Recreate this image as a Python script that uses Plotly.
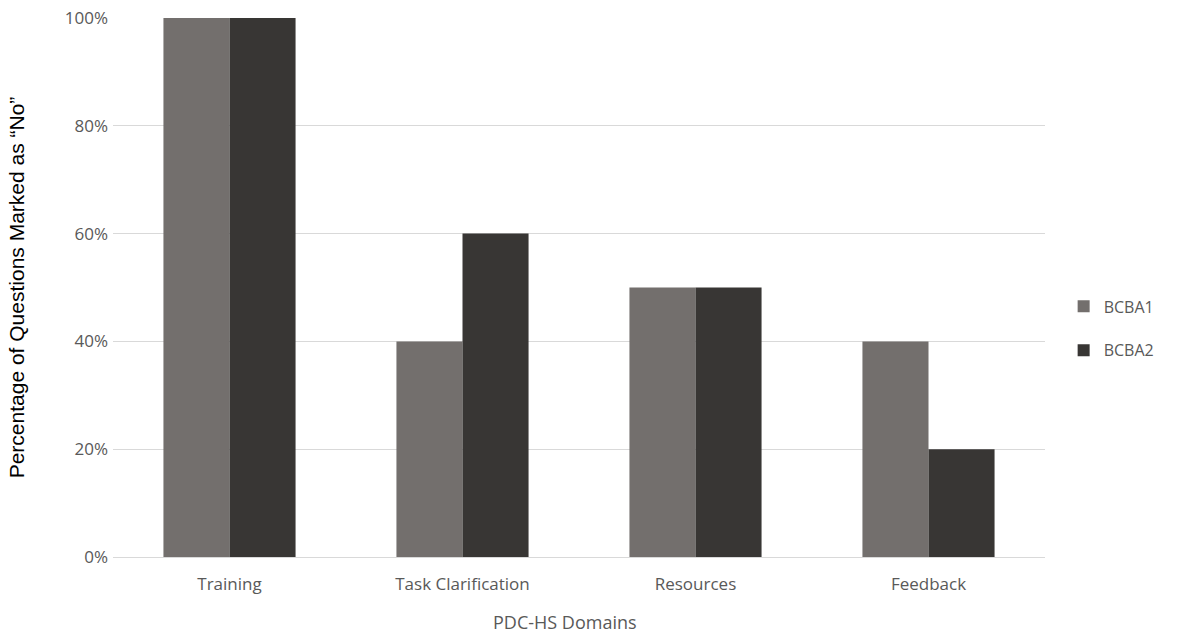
import plotly.graph_objects as go

categories = ["Training", "Task Clarification", "Resources", "Feedback"]
bcba1 = [100, 40, 50, 40]
bcba2 = [100, 60, 50, 20]
y_ticks = [0, 20, 40, 60, 80, 100]
y_tick_labels = ["0%", "20%", "40%", "60%", "80%", "100%"]

fig = go.Figure()
fig.add_trace(go.Bar(x=categories, y=[v / 100 for v in bcba1], name="BCBA1",
                     marker=dict(color="#736f6d", line=dict(width=0)), legendgroup="a"))
fig.add_trace(go.Bar(x=categories, y=[v / 100 for v in bcba2], name="BCBA2",
                     marker=dict(color="#383634", line=dict(width=0)), legendgroup="b"))

fig.update_layout(
    width=1177, height=640,
    margin=dict(l=113, r=132, t=18, b=83),
    paper_bgcolor="white", plot_bgcolor="white",
    barmode="group", bargap=0.433, bargroupgap=0,
    font=dict(family="Open Sans, DejaVu Sans, sans-serif", color="#595959"),
    legend=dict(x=1.02, y=0.424, xanchor="left", yanchor="middle",
                font=dict(size=16, color="#595959"), tracegroupgap=20,
                traceorder="grouped", itemwidth=30),
    xaxis=dict(tickfont=dict(size=17, color="#595959"), showline=True, linecolor="#d9d9d9",
               linewidth=1, ticks="", ticklabelstandoff=12, automargin=False),
    yaxis=dict(title=dict(text="Percentage of Questions Marked as “No”",
                          font=dict(size=21, color="#000000", family="Liberation Sans, Arial, sans-serif"),
                          standoff=34),
               range=[0, 1.0], tickvals=[v / 100 for v in y_ticks], ticktext=y_tick_labels,
               tickfont=dict(size=17, color="#595959"), gridcolor="#d9d9d9", gridwidth=1,
               zeroline=False, ticks="", ticklabelstandoff=4, automargin=False),
    annotations=[dict(text="PDC-HS Domains", x=0.485, y=-0.121, xref="paper", yref="paper",
                      xanchor="center", yanchor="middle", showarrow=False,
                      font=dict(size=18, color="#595959"))],
)

fig.write_html("out.html")
